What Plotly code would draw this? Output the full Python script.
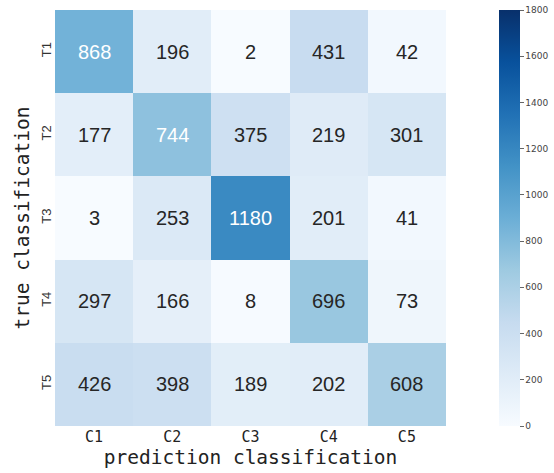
import plotly.graph_objects as go

# Confusion matrix counts: rows = true class, columns = predicted class
true_labels = ["T1", "T2", "T3", "T4", "T5"]
pred_labels = ["C1", "C2", "C3", "C4", "C5"]
counts = [
    [868, 196, 2, 431, 42],
    [177, 744, 375, 219, 301],
    [3, 253, 1180, 201, 41],
    [297, 166, 8, 696, 73],
    [426, 398, 189, 202, 608],
]
cbar_ticks = [0, 200, 400, 600, 800, 1000, 1200, 1400, 1600, 1800]

# ColorBrewer "Blues"
blues = ["#f7fbff", "#deebf7", "#c6dbef", "#9ecae1", "#6baed6",
         "#4292c6", "#2171b5", "#08519c", "#08306b"]
colorscale = [[i / (len(blues) - 1), c] for i, c in enumerate(blues)]

fig = go.Figure(go.Heatmap(
    z=counts, x=pred_labels, y=true_labels,
    zmin=0, zmax=1800, colorscale=colorscale,
    colorbar=dict(
        thickness=21, len=1.0, lenmode="fraction", y=0.5, yanchor="middle",
        x=1.1365, xanchor="left", xpad=0, ypad=0, outlinewidth=0,
        tickvals=cbar_ticks, ticks="outside", ticklen=4, tickwidth=1,
        tickcolor="#666", tickfont=dict(family="DejaVu Sans", size=9, color="#444"),
    ),
    hoverinfo="skip",
))

for i, row in enumerate(counts):
    for j, v in enumerate(row):
        fig.add_annotation(
            x=pred_labels[j], y=true_labels[i], text=str(v), showarrow=False,
            font=dict(family="Liberation Sans", size=20,
                      color="white" if v > 700 else "#262626"),
        )

mono = "DejaVu Sans Mono"
fig.update_xaxes(
    showgrid=False, zeroline=False, ticks="", showline=False, automargin=False,
    tickfont=dict(family=mono, size=15, color="#222"),
    title=dict(text="prediction classification",
               font=dict(family=mono, size=19.5, color="#222"), standoff=2),
)
fig.update_yaxes(
    autorange="reversed", showgrid=False, zeroline=False, ticks="", showline=False,
    automargin=False, tickangle=-90,
    tickfont=dict(family="Liberation Sans", size=13, color="#333"),
    title=dict(text="true classification",
               font=dict(family=mono, size=19.5, color="#222"), standoff=4),
)
fig.update_layout(
    width=554, height=473, margin=dict(l=55, r=108, t=10, b=47, autoexpand=False),
    paper_bgcolor="white", plot_bgcolor="white",
)
fig.write_html("out.html")
